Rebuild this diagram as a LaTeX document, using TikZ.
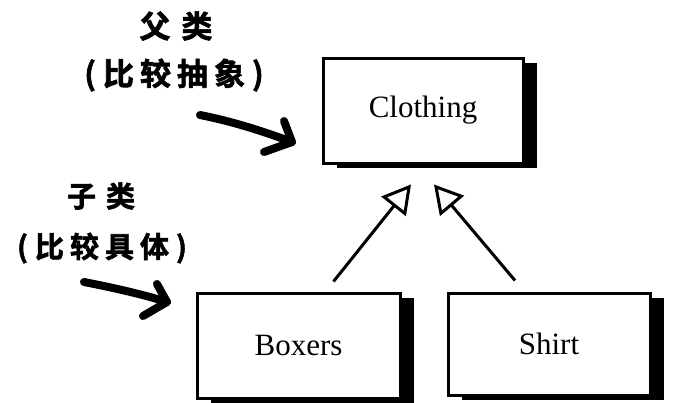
\documentclass[tikz,border=0pt]{standalone}
\usepackage{fontspec}
\newfontfamily\cjk{Noto Sans CJK SC}[BoldFont={Noto Sans CJK SC Bold},BoldFeatures={FakeBold=2}]
\newfontfamily\boxfont{Liberation Serif}
\usetikzlibrary{arrows.meta,shadows}
\tikzset{
  classbox/.style={draw=black, line width=3pt, fill=white, rectangle,
    inner sep=0pt, font=\boxfont\fontsize{31}{32}\selectfont,
    drop shadow={shadow xshift=14pt, shadow yshift=-5pt, fill=black, opacity=1}},
  inh/.style={line width=3pt, -{Triangle[open,length=28pt,width=31pt,line width=3pt]}},
  note/.style={font=\cjk\bfseries\fontsize{31}{33}\selectfont, inner sep=0pt},
  subnote/.style={font=\cjk\bfseries\fontsize{29}{31}\selectfont, inner sep=0pt},
  pointer/.style={line width=8pt, line cap=round, line join=round}
}
\begin{document}
\begin{tikzpicture}[x=1pt,y=-1pt]
\useasboundingbox (0,0) rectangle (676,402);
\node[classbox, minimum width=200pt, minimum height=105pt] (clothing) at (423,110.5) {Clothing};
\node[classbox, minimum width=203pt, minimum height=105pt] (boxers) at (298.5,345.5) {Boxers};
\node[classbox, minimum width=202pt, minimum height=102pt] (shirt) at (549,344) {Shirt};
\draw[inh] ([xshift=35pt,yshift=10pt]boxers.north) -- ([xshift=-12pt,yshift=-20pt]clothing.south);
\draw[inh] ([xshift=-34pt,yshift=11pt]shirt.north) -- ([xshift=11pt,yshift=-20pt]clothing.south);
\node[note] (parent) at (176,26) {父\hspace{11pt}类};
\node[note] (parentnote) at (174,75) {(\hspace{7pt}比\hspace{6pt}较\hspace{6pt}抽\hspace{6pt}象\hspace{7pt})};
\node[subnote] (child) at (101,196) {子\hspace{10pt}类};
\node[subnote] (childnote) at (102,248) {(\hspace{7pt}比\hspace{6pt}较\hspace{6pt}具\hspace{6pt}体\hspace{7pt})};
\coordinate (p1s) at (200,115);
\coordinate (p1t) at (292,142);
\coordinate (p1a) at (284,121);
\coordinate (p1b) at (264,152);
\draw[pointer] (p1s) .. controls (235,122) and (265,132) .. (p1t);
\draw[pointer] (p1a) -- (p1t) -- (p1b);
\coordinate (p2s) at (84,282);
\coordinate (p2t) at (167,302);
\coordinate (p2a) at (157,284);
\coordinate (p2b) at (143,316);
\draw[pointer] (p2s) .. controls (115,288) and (145,295) .. (p2t);
\draw[pointer] (p2a) -- (p2t) -- (p2b);
\end{tikzpicture}
\end{document}
